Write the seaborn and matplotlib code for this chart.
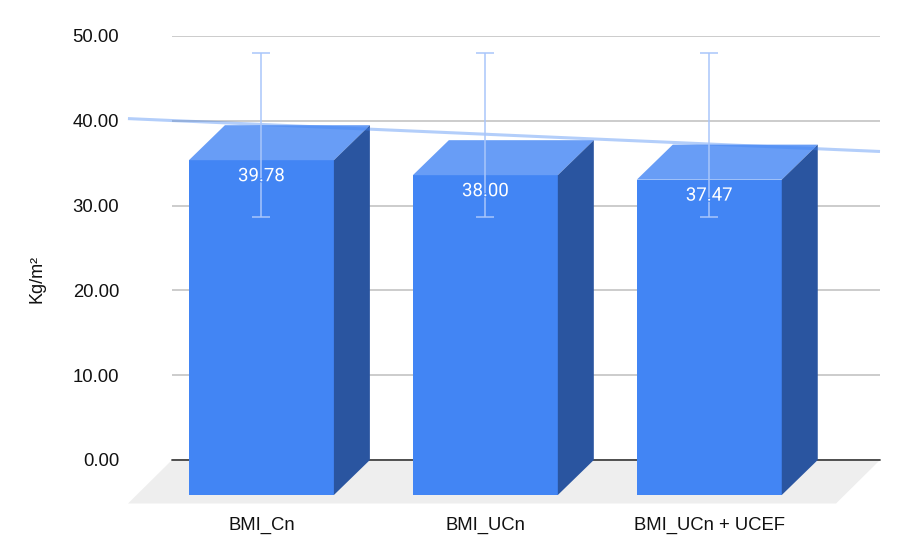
import numpy as np
import matplotlib
matplotlib.use("Agg")
import matplotlib.pyplot as plt
import matplotlib.patheffects as pe
from matplotlib.patches import Polygon
import seaborn as sns

categories = ["BMI_Cn", "BMI_UCn", "BMI_UCn + UCEF"]
values = [39.78, 38.00, 37.47]
value_labels = ["39.78", "38.00", "37.47"]
err_high = [48.0, 48.0, 48.0]
err_low = [28.7, 28.7, 28.7]
y_ticks = [0, 10, 20, 30, 40, 50]

BLUE = "#4285f4"
TOP = "#689df6"
SIDE = "#2a55a0"
ERR = "#a9c6fb"

# fake 3d depth, in data units (category spacing / value axis)
DX = -36 / 224
DY = -35 / 8.48
FRONT_SCALE = 0.9925
BAR_W = 145 / 224

sns.set_theme(style="white")
plt.rcParams["font.family"] = ["Liberation Sans", "DejaVu Sans"]

fig = plt.figure(figsize=(9.08, 5.6), dpi=100)
ax = fig.add_axes([172 / 908, 100 / 560, 708 / 908, 424 / 560])

sns.barplot(x=categories, y=values, color=BLUE, saturation=1, width=BAR_W,
            errorbar=None, ax=ax, zorder=5, clip_on=False, linewidth=0)
ax.set_xlim(-0.56, 2.6016)
ax.set_ylim(0, 50)
x0, x1 = ax.get_xlim()

# floor
ax.add_patch(Polygon([(x0, 0), (x1, 0), (x1 - 44 / 224, -43.5 / 8.48), (x0 - 44 / 224, -43.5 / 8.48)],
                     closed=True, facecolor="#eeeeee", edgecolor="none", zorder=1, clip_on=False))

# move the bars to the front plane and add the top and side faces
for i, p in enumerate(ax.patches[:3]):
    h = p.get_height() * FRONT_SCALE
    left = p.get_x()
    w = p.get_width()
    p.set_x(left + DX)
    p.set_y(DY)
    p.set_height(h)
    top_y = h + DY
    ax.add_patch(Polygon([(left + DX, top_y), (left + w + DX, top_y), (left + w, h), (left, h)],
                         closed=True, facecolor=TOP, edgecolor="none", zorder=5, clip_on=False))
    ax.add_patch(Polygon([(left + w + DX, DY), (left + w, 0), (left + w, h), (left + w + DX, top_y)],
                         closed=True, facecolor=SIDE, edgecolor="none", zorder=5, clip_on=False))

# error bars
centers = np.arange(3) + DX
vals = np.array(values)
mid = vals
ax.errorbar(centers, mid, yerr=[mid - np.array(err_low), np.array(err_high) - mid], fmt="none",
            ecolor=ERR, elinewidth=1.1, capsize=6.5, capthick=1.1, zorder=7, clip_on=False)

# trendline
fit = np.polyfit(np.arange(3), vals, 1)
xs = np.array([(128 - 297.5) / 224, x1])
sns.lineplot(x=xs, y=np.polyval(fit, xs - DX), color=BLUE, alpha=0.4, linewidth=2.2, ax=ax,
             zorder=6, clip_on=False, solid_capstyle="butt")

# value labels
for c, v, lab in zip(centers, values, value_labels):
    ax.text(c, v * FRONT_SCALE + DY - 16 / 8.48, lab, color="white", ha="center", va="center",
            fontsize=13.4, family=["Roboto", "DejaVu Sans"], zorder=8,
            path_effects=[pe.withStroke(linewidth=1.6, foreground=BLUE)])

# axes
ax.set_yticks(y_ticks, labels=[f"{t:.2f}" for t in y_ticks])
ax.set_xticks(centers, labels=categories)
ax.tick_params(axis="both", length=0, labelsize=13.3, labelcolor="#111111")
ax.tick_params(axis="y", pad=38)
ax.tick_params(axis="x", pad=41)
ax.set_xlabel("")
ax.set_ylabel("Kg/m²", fontsize=13, color="#111111")
ax.yaxis.set_label_coords(-0.178, 0.427)
ax.grid(axis="y", color="#cccccc", linewidth=1.4, zorder=0)
ax.set_axisbelow(True)
for s in ax.spines.values():
    s.set_visible(False)
ax.axhline(0, color="#444444", linewidth=1.3, zorder=2, clip_on=False)

fig.savefig("out.png", dpi=100, facecolor="white")
